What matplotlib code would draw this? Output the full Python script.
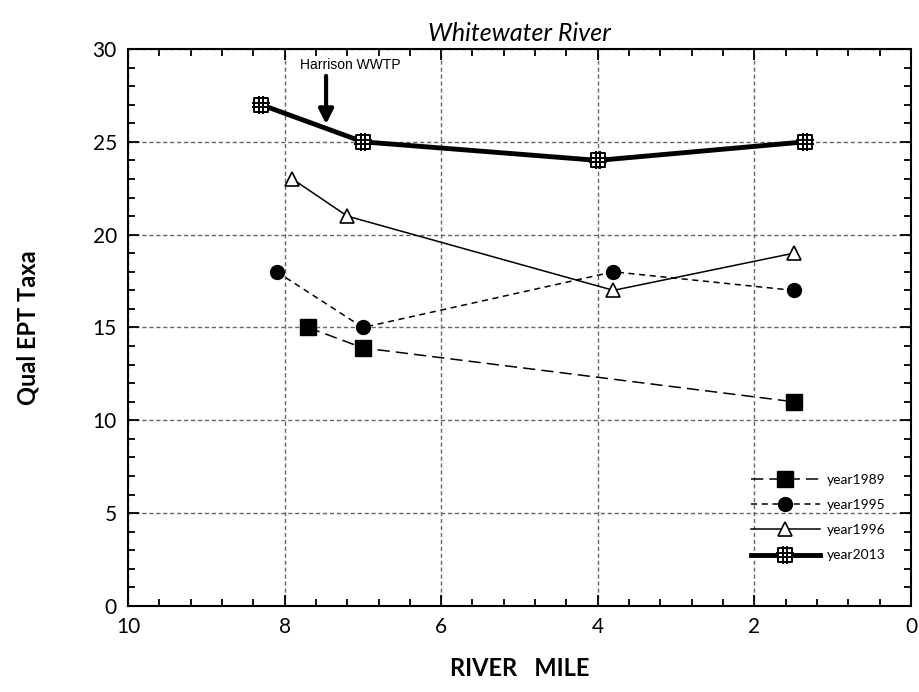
"""
Whitewater River - Qual EPT Taxa vs river mile
"""

import numpy as np
import matplotlib
matplotlib.use('Agg')
import matplotlib.pyplot as plt
from matplotlib.path import Path
from matplotlib.ticker import MultipleLocator

# date
mile_1989 = [7.7, 7.0, 1.5]
qual_1989 = [15, 13.9, 11]

mile_1995 = [8.1, 7.0, 3.8, 1.5]
qual_1995 = [18, 15, 18, 17]

mile_1996 = [7.9, 7.2, 3.8, 1.5]
qual_1996 = [23, 21, 17, 19]

mile_2013 = [8.3, 7.0, 4.0, 1.35]
qual_2013 = [27, 25, 24, 25]

wwtp_mile = 7.47
wwtp_label = 'Harrison WWTP'

plt.rcParams['font.family'] = ['Lato', 'DejaVu Sans']


def marker_grila():
    # patrat cu grila (ca in Excel)
    v = [(-1, -1), (1, -1), (1, 1), (-1, 1), (-1, -1)]
    c = [Path.MOVETO, Path.LINETO, Path.LINETO, Path.LINETO, Path.CLOSEPOLY]
    e = 1.3
    for p in (-0.33, 0.33):
        v += [(p, -e), (p, e)]
        c += [Path.MOVETO, Path.LINETO]
        v += [(-e, p), (e, p)]
        c += [Path.MOVETO, Path.LINETO]
    return Path(v, c)


fig = plt.figure(figsize=(9.2, 6.92), dpi=100)
ax = fig.add_axes([0.1391, 0.1243, 0.8511, 0.8049])

ax.plot(mile_1989, qual_1989, color='k', lw=1.1, dashes=(8, 4),
        marker='s', ms=11, label='year1989')
ax.plot(mile_1995, qual_1995, color='k', lw=1.1, dashes=(4, 3),
        marker='o', ms=10, label='year1995')
ax.plot(mile_1996, qual_1996, color='k', lw=1.1, ls='-',
        marker='^', ms=10, mfc='white', mew=1.2, label='year1996')
ax.plot(mile_2013, qual_2013, color='k', lw=3.5, ls='-',
        marker=marker_grila(), ms=13, mfc='white', mew=1.4, label='year2013')

ax.set_xlim(10, 0)
ax.set_ylim(0, 30)
ax.xaxis.set_major_locator(MultipleLocator(2))
ax.xaxis.set_minor_locator(MultipleLocator(0.4))
ax.yaxis.set_major_locator(MultipleLocator(5))
ax.yaxis.set_minor_locator(MultipleLocator(1))
ax.tick_params(which='both', direction='in', top=True, right=True, width=1.3)
ax.tick_params(which='major', length=8, labelsize=15, pad=8)
ax.tick_params(which='minor', length=5)
for s in ax.spines.values():
    s.set_linewidth(1.5)

ax.grid(True, which='major', color='#666666', lw=1, dashes=(3, 2))

ax.set_title('Whitewater River', fontsize=18, style='italic', pad=6)
ax.set_xlabel('RIVER   MILE', fontsize=17, fontweight='bold', labelpad=14)
ax.set_ylabel('Qual EPT Taxa', fontsize=17, fontweight='bold', labelpad=38)

ax.annotate('', xy=(wwtp_mile, 25.8), xytext=(wwtp_mile, 28.7),
            arrowprops=dict(arrowstyle='-|>', lw=3, color='k', mutation_scale=22))
ax.text(7.16, 29.15, wwtp_label, fontsize=10, ha='center', va='center',
        family='Liberation Sans')

leg = ax.legend(loc='lower right', bbox_to_anchor=(0.975, 0.07), frameon=False,
                fontsize=10, handlelength=5.0, labelspacing=0.95,
                borderaxespad=0, handletextpad=0.5)

fig.savefig('out.png', dpi=100)
